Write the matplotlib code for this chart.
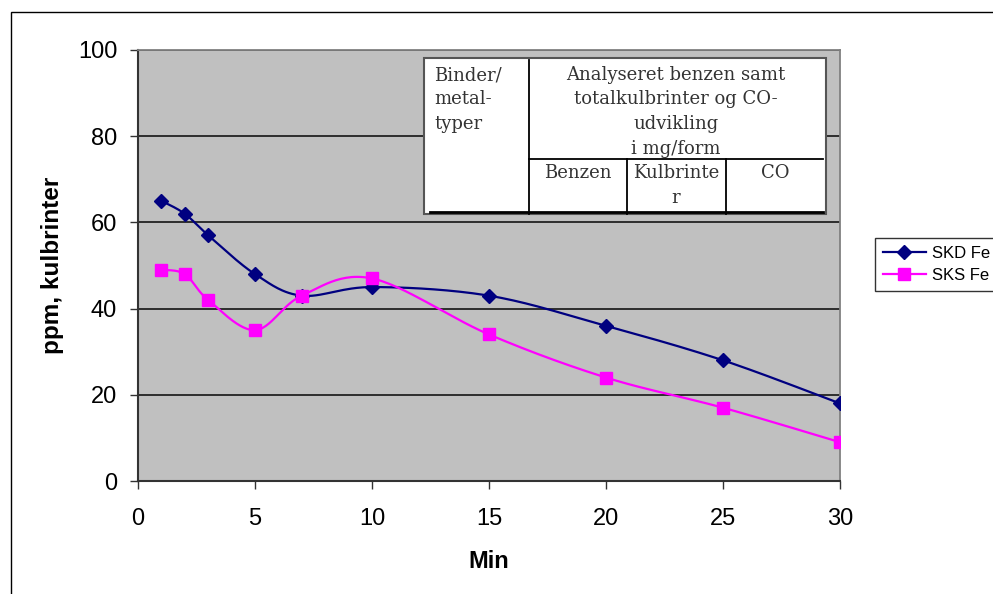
import numpy as np
import matplotlib
matplotlib.use("Agg")
import matplotlib.pyplot as plt
from matplotlib.patches import Rectangle
from matplotlib.lines import Line2D

# data
minutes = [1, 2, 3, 5, 7, 10, 15, 20, 25, 30]
skd_fe = [65, 62, 57, 48, 43, 45, 43, 36, 28, 18]
sks_fe = [49, 48, 42, 35, 43, 47, 34, 24, 17, 9]
series_names = ["SKD Fe", "SKS Fe"]
x_ticks = [0, 5, 10, 15, 20, 25, 30]
y_ticks = [0, 20, 40, 60, 80, 100]

W, H = 993, 594
plt.rcParams['font.family'] = ['Liberation Sans', 'DejaVu Sans']


def smooth(x, y, n=30):
    # Excel-like smoothed line (Catmull-Rom as cubic bezier)
    p = np.column_stack([x, y]).astype(float)
    p = np.vstack([p[0], p, p[-1]])
    out = []
    t = np.linspace(0, 1, n)[:, None]
    for i in range(1, len(p) - 2):
        p0, p1 = p[i], p[i + 1]
        c1 = p0 + (p[i + 1] - p[i - 1]) / 6
        c2 = p1 - (p[i + 2] - p[i]) / 6
        seg = ((1 - t) ** 3) * p0 + 3 * ((1 - t) ** 2) * t * c1 + 3 * (1 - t) * t ** 2 * c2 + t ** 3 * p1
        out.append(seg if i == 1 else seg[1:])
    s = np.vstack(out)
    return s[:, 0], s[:, 1]


def fx(x):
    return x / W


def fy(y):
    return 1 - y / H


fig = plt.figure(figsize=(W / 100, H / 100), dpi=100)
fig.patch.set_facecolor('white')

# outer chart frame
fig.patches.append(Rectangle((fx(11), fy(700)), 2, fy(12) - fy(700), transform=fig.transFigure,
                             fill=False, edgecolor='black', linewidth=1))

ax = fig.add_axes([fx(138), fy(481), fx(840) - fx(138), fy(50) - fy(481)])
ax.set_facecolor('#C0C0C0')

colors = ['#000080', '#FF00FF']
markers = ['D', 's']
msizes = [7, 9]
for vals, c, m, ms, name in zip([skd_fe, sks_fe], colors, markers, msizes, series_names):
    sx, sy = smooth(minutes, vals)
    ax.plot(sx, sy, color=c, lw=1.6, zorder=3)
    ax.plot(minutes, vals, ls='none', marker=m, ms=ms, color=c, zorder=4)

ax.set_xlim(0, 30)
ax.set_ylim(0, 100)
ax.set_xticks(x_ticks)
ax.set_yticks(y_ticks)
ax.yaxis.grid(True, color='#222222', lw=1.3)
ax.set_axisbelow(True)
for s in ['top', 'right']:
    ax.spines[s].set_color('#808080')
    ax.spines[s].set_linewidth(1.3)
for s in ['left', 'bottom']:
    ax.spines[s].set_color('#333333')
    ax.spines[s].set_linewidth(1.5)
ax.tick_params(axis='both', direction='out', length=6, width=1, labelsize=17, color='#333333')
ax.tick_params(axis='x', pad=13.5)
ax.tick_params(axis='y', pad=9)

ax.set_xlabel('Min', fontsize=17, fontweight='bold')
ax.set_ylabel('ppm, kulbrinter', fontsize=17.5, fontweight='bold')
ax.xaxis.set_label_coords(0.5, (481 - 561) / 431)
ax.xaxis.label.set_va('center')
ax.yaxis.set_label_coords((53 - 138) / 702, 0.5)
ax.yaxis.label.set_va('center')

# embedded table picture
tf = fig.transFigure


def hline(x0, x1, y, lw=1.2, c='black'):
    fig.lines.append(Line2D([fx(x0), fx(x1)], [fy(y), fy(y)], transform=tf, color=c, lw=lw, zorder=10))


def vline(x, y0, y1, lw=1.2, c='black'):
    fig.lines.append(Line2D([fx(x), fx(x)], [fy(y0), fy(y1)], transform=tf, color=c, lw=lw, zorder=10))


fig.patches.append(Rectangle((fx(424), fy(214)), fx(826) - fx(424), fy(58) - fy(214), transform=tf,
                             facecolor='white', edgecolor='#555555', linewidth=1.5, zorder=9))
vline(529, 60, 214, lw=1.3)
hline(529, 823, 159, lw=1.3)
vline(627, 159, 214, lw=1.3)
vline(726, 159, 214, lw=1.3)
hline(430, 823, 212, lw=2)

tkw = dict(family='DejaVu Serif', fontsize=13, color='#333333', transform=tf, zorder=11, va='center')
for i, line in enumerate(['Binder/', 'metal-', 'typer']):
    fig.text(fx(434), fy(75 + 24.5 * i), line, ha='left', **tkw)
for i, line in enumerate(['Analyseret benzen samt', 'totalkulbrinter og CO-', 'udvikling', 'i mg/form']):
    fig.text(fx(676), fy(75 + 24.5 * i), line, ha='center', **tkw)
fig.text(fx(578), fy(173), 'Benzen', ha='center', **tkw)
fig.text(fx(676), fy(173), 'Kulbrinte', ha='center', **tkw)
fig.text(fx(676), fy(198), 'r', ha='center', **tkw)
fig.text(fx(775), fy(173), 'CO', ha='center', **tkw)

handles = [Line2D([], [], color=c, marker=m, ms=ms, lw=1.6) for c, m, ms in zip(colors, markers, msizes)]
leg = fig.legend(handles, series_names, loc='upper left', bbox_to_anchor=(fx(875), fy(238)),
                 bbox_transform=tf, borderaxespad=0, fancybox=False, shadow=False, fontsize=12,
                 handlelength=2.6, handletextpad=0.4, borderpad=0.45, labelspacing=0.45)
leg.get_frame().set_edgecolor('black')
leg.get_frame().set_linewidth(1)

fig.savefig('out.png', dpi=100)
